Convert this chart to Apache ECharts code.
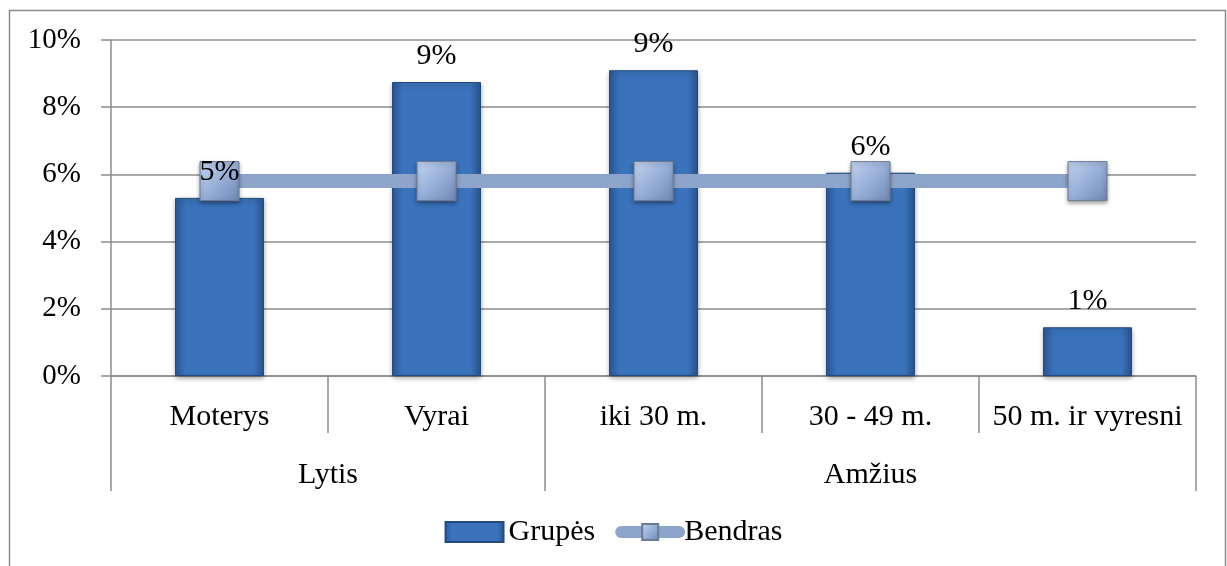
<!DOCTYPE html>
<html>
<head>
<meta charset="utf-8">
<script src="https://cdn.jsdelivr.net/npm/echarts@6/dist/echarts.min.js"></script>
<style>
  html, body { margin: 0; padding: 0; background: #fff; }
  #chart { width: 1227px; height: 566px; }
</style>
</head>
<body>
<div id="chart"></div>
<script>
// chart values
var categories = ['Moterys', 'Vyrai', 'iki 30 m.', '30 - 49 m.', '50 m. ir vyresni'];
var groupNames = ['Lytis', 'Amžius'];
var groupSpans = [2, 3];
var grupes = [0.053, 0.0875, 0.091, 0.0605, 0.0145];
var bendras = [0.058, 0.058, 0.058, 0.058, 0.058];
var yTicks = [0, 0.02, 0.04, 0.06, 0.08, 0.10];

// group boundaries and centres on a 0..n scale
var groupEdges = [0];
var groupMids = [];
groupSpans.forEach(function (s, i) {
  groupMids.push(groupEdges[i] + s / 2);
  groupEdges.push(groupEdges[i] + s);
});

var font = "'Liberation Serif', 'Times New Roman', serif";
var grey = '#8c8c8c';
var pct = function (v) { return Math.round(v * 100) + '%'; };

var chart = echarts.init(document.getElementById('chart'));

var barColor = new echarts.graphic.LinearGradient(0, 0, 1, 0, [
  { offset: 0, color: '#2b5896' },
  { offset: 0.12, color: '#3a72bb' },
  { offset: 0.88, color: '#3a72bb' },
  { offset: 1, color: '#2a5590' }
]);
var markColor = new echarts.graphic.LinearGradient(0, 0, 1, 1, [
  { offset: 0, color: '#c3d4ee' },
  { offset: 0.5, color: '#98b0d8' },
  { offset: 1, color: '#6f88b4' }
]);

option = {
  animation: false,
  textStyle: { fontFamily: font },
  graphic: [{
    type: 'rect',
    left: 7, top: 8,
    shape: { width: 1216, height: 600 },
    style: { fill: 'none', stroke: grey, lineWidth: 1.5 },
    silent: true
  }],
  grid: { left: 111, right: 31, top: 40, bottom: 190 },
  legend: {
    top: 512,
    left: 'center',
    itemGap: 20,
    itemWidth: 58,
    itemHeight: 20,
    textStyle: { fontFamily: font, fontSize: 30, color: '#000' },
    data: [
      { name: 'Grupės', icon: 'rect' },
      { name: 'Bendras', lineStyle: { width: 12, cap: 'round' } }
    ]
  },
  xAxis: [{
    type: 'category',
    data: categories,
    axisLine: { show: true, lineStyle: { color: grey, width: 1.5 } },
    axisTick: { show: true, length: 57, interval: 0, lineStyle: { color: grey, width: 1.5 } },
    axisLabel: { interval: 0, margin: 26, fontSize: 30, color: '#000', fontFamily: font },
    splitLine: { show: false }
  }, {
    type: 'value',
    min: 0,
    max: categories.length,
    position: 'bottom',
    axisLine: { show: false },
    splitLine: { show: false },
    axisTick: {
      show: true,
      length: 115,
      customValues: groupEdges,
      lineStyle: { color: grey, width: 1.5 }
    },
    axisLabel: {
      show: true,
      margin: 84,
      fontSize: 30,
      color: '#000',
      fontFamily: font,
      customValues: groupMids,
      formatter: function (v) {
        var i = groupMids.indexOf(v);
        return i >= 0 ? groupNames[i] : '';
      }
    }
  }],
  yAxis: {
    type: 'value',
    min: yTicks[0],
    max: yTicks[yTicks.length - 1],
    interval: 0.02,
    axisLine: { show: true, lineStyle: { color: grey, width: 1.5 } },
    axisTick: { show: true, length: 10, lineStyle: { color: grey, width: 1.5 } },
    splitLine: { lineStyle: { color: grey, width: 1.5 } },
    axisLabel: {
      margin: 30,
      fontSize: 29,
      color: '#000',
      fontFamily: font,
      formatter: pct
    }
  },
  series: [{
    name: 'Grupės',
    type: 'bar',
    data: grupes,
    barWidth: 89,
    itemStyle: {
      color: barColor,
      borderColor: '#24497d',
      borderWidth: 1,
      shadowColor: 'rgba(0,0,0,0.35)',
      shadowBlur: 5,
      shadowOffsetY: 2
    },
    z: 2
  }, {
    name: 'Bendras',
    type: 'line',
    data: bendras,
    symbol: 'rect',
    symbolSize: 39,
    lineStyle: { color: '#8ea5cb', width: 14 },
    itemStyle: {
      color: markColor,
      borderColor: '#6c7a92',
      borderWidth: 1,
      shadowColor: 'rgba(0,0,0,0.35)',
      shadowBlur: 4,
      shadowOffsetY: 2
    },
    z: 3
  }, {
    // value labels of the bars, drawn above the line markers
    name: 'labels',
    type: 'scatter',
    data: grupes,
    symbolSize: 0,
    silent: true,
    itemStyle: { opacity: 1 },
    label: {
      show: true,
      position: 'top',
      distance: 11,
      fontSize: 30,
      color: '#000',
      opacity: 1,
      fontFamily: font,
      formatter: function (p) { return pct(p.value); }
    },
    z: 5
  }]
};
chart.setOption(option);
</script>
</body>
</html>
